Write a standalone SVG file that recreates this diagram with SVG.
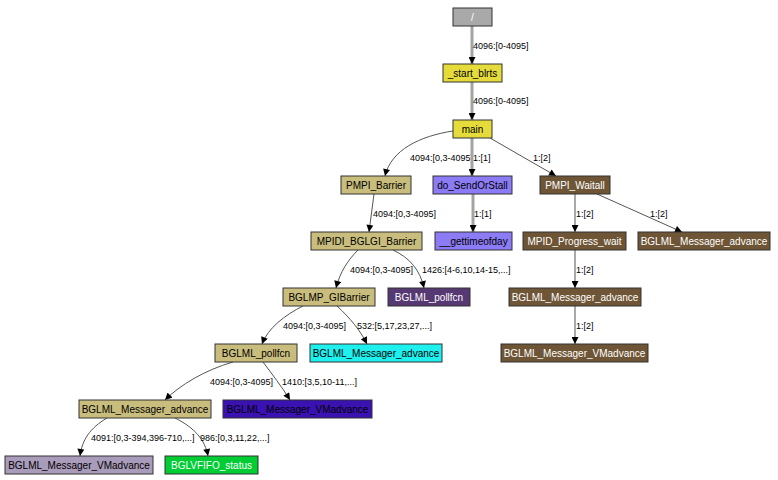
<svg xmlns="http://www.w3.org/2000/svg" width="778" height="480" viewBox="0 0 778 480">
<style>
.n rect{stroke:#333;stroke-width:1}
.n text{font-family:"Liberation Sans",Arial,sans-serif;font-size:10px;text-anchor:middle;fill:#000}
.w text{fill:#fff}
.e path{fill:none;stroke:#555;stroke-width:1;marker-end:url(#ah)}
.e path.t{stroke:#a3a3a3;stroke-width:3}
.e text{font-family:"Liberation Sans",Arial,sans-serif;font-size:9px;fill:#000}
.gray rect{fill:#a9a9a9}
.yel rect{fill:#e5dc3b}
.tan rect{fill:#c9bd7e}
.pur rect{fill:#8b7bf5}
.brn rect{fill:#6e5535}
.dpu rect{fill:#563873}
.cyn rect{fill:#1ef0ee}
.blu rect{fill:#3b12b2}
.lav rect{fill:#a99bba}
.grn rect{fill:#00cc33}
</style>
<defs>
<marker id="ah" viewBox="0 0 10 10" refX="10" refY="5" markerWidth="8" markerHeight="7" markerUnits="userSpaceOnUse" orient="auto">
<path d="M0,0 L10,5 L0,10 z" fill="#000"/>
</marker>
</defs>
<rect width="778" height="480" fill="#fff"/>
<g id="edges" class="e">
<path class="t" d="M472,26 L472,64"/>
<text x="473" y="49">4096:[0-4095]</text>
<path class="t" d="M472,82 L472,120"/>
<text x="473" y="104">4096:[0-4095]</text>
<path d="M453,131 C420,136 391,150 385,176"/>
<text x="410" y="161">4094:[0,3-4095]</text>
<path class="t" d="M472,138 L472,176"/>
<text x="473" y="161">1:[1]</text>
<path d="M490,138 L556,176"/>
<text x="533" y="161">1:[2]</text>
<path d="M374,194 L369,232"/>
<text x="373" y="217">4094:[0,3-4095]</text>
<path class="t" d="M473,194 L473,232"/>
<text x="474" y="217">1:[1]</text>
<path d="M575,194 L575,232"/>
<text x="576" y="217">1:[2]</text>
<path d="M597,194 L682,232"/>
<text x="650" y="217">1:[2]</text>
<path d="M358,250 C348,260 340,272 336,288"/>
<text x="350" y="273">4094:[0,3-4095]</text>
<path d="M393,250 C410,258 420,270 424,288"/>
<text x="422" y="273">1426:[4-6,10,14-15,...]</text>
<path d="M575,250 L575,288"/>
<text x="576" y="273">1:[2]</text>
<path d="M303,306 C285,315 268,328 262,344"/>
<text x="283" y="329">4094:[0,3-4095]</text>
<path d="M337,306 C350,318 360,330 367,344"/>
<text x="357" y="329">532:[5,17,23,27,...]</text>
<path d="M575,306 L575,344"/>
<text x="576" y="329">1:[2]</text>
<path d="M233,362 C205,370 180,385 165,400"/>
<text x="210" y="385">4094:[0,3-4095]</text>
<path d="M263,362 C272,374 282,387 290,400"/>
<text x="282" y="385">1410:[3,5,10-11,...]</text>
<path d="M107,418 C90,428 82,440 80,456"/>
<text x="91" y="441">4091:[0,3-394,396-710,...]</text>
<path d="M175,418 C195,428 205,440 208,456"/>
<text x="200" y="441">986:[0,3,11,22,...]</text>
</g>
<g id="n1" class="n gray w"><rect x="453" y="8" width="39" height="18"/><text x="472.5" y="21">/</text></g>
<g id="n2" class="n yel"><rect x="443" y="64" width="59" height="18"/><text x="472.5" y="77">_start_blrts</text></g>
<g id="n3" class="n yel"><rect x="453" y="120" width="39" height="18"/><text x="472.5" y="133">main</text></g>
<g id="n4" class="n tan"><rect x="341" y="176" width="70" height="18"/><text x="376" y="189">PMPI_Barrier</text></g>
<g id="n5" class="n pur"><rect x="433" y="176" width="79" height="18"/><text x="472.5" y="189">do_SendOrStall</text></g>
<g id="n6" class="n brn w"><rect x="540" y="176" width="70" height="18"/><text x="575" y="189">PMPI_Waitall</text></g>
<g id="n7" class="n tan"><rect x="311" y="232" width="111" height="18"/><text x="366.5" y="245">MPIDI_BGLGI_Barrier</text></g>
<g id="n8" class="n pur"><rect x="435" y="232" width="77" height="18"/><text x="473.5" y="245">__gettimeofday</text></g>
<g id="n9" class="n brn w"><rect x="523" y="232" width="103" height="18"/><text x="574.5" y="245">MPID_Progress_wait</text></g>
<g id="n10" class="n brn w"><rect x="638" y="232" width="132" height="18"/><text x="704" y="245">BGLML_Messager_advance</text></g>
<g id="n11" class="n tan"><rect x="283" y="288" width="92" height="18"/><text x="329" y="301">BGLMP_GIBarrier</text></g>
<g id="n12" class="n dpu w"><rect x="388" y="288" width="82" height="18"/><text x="429" y="301">BGLML_pollfcn</text></g>
<g id="n13" class="n brn w"><rect x="509" y="288" width="132" height="18"/><text x="575" y="301">BGLML_Messager_advance</text></g>
<g id="n14" class="n tan"><rect x="215" y="344" width="82" height="18"/><text x="256" y="357">BGLML_pollfcn</text></g>
<g id="n15" class="n cyn"><rect x="310" y="344" width="132" height="18"/><text x="376" y="357">BGLML_Messager_advance</text></g>
<g id="n16" class="n brn w"><rect x="501" y="344" width="147" height="18"/><text x="574.5" y="357">BGLML_Messager_VMadvance</text></g>
<g id="n17" class="n tan"><rect x="79" y="400" width="132" height="18"/><text x="145" y="413">BGLML_Messager_advance</text></g>
<g id="n18" class="n blu"><rect x="223" y="400" width="149" height="18"/><text x="297.5" y="413">BGLML_Messager_VMadvance</text></g>
<g id="n19" class="n lav"><rect x="5" y="456" width="148" height="18"/><text x="79" y="469">BGLML_Messager_VMadvance</text></g>
<g id="n20" class="n grn w"><rect x="165" y="456" width="93" height="18"/><text x="211.5" y="469">BGLVFIFO_status</text></g>
</svg>
